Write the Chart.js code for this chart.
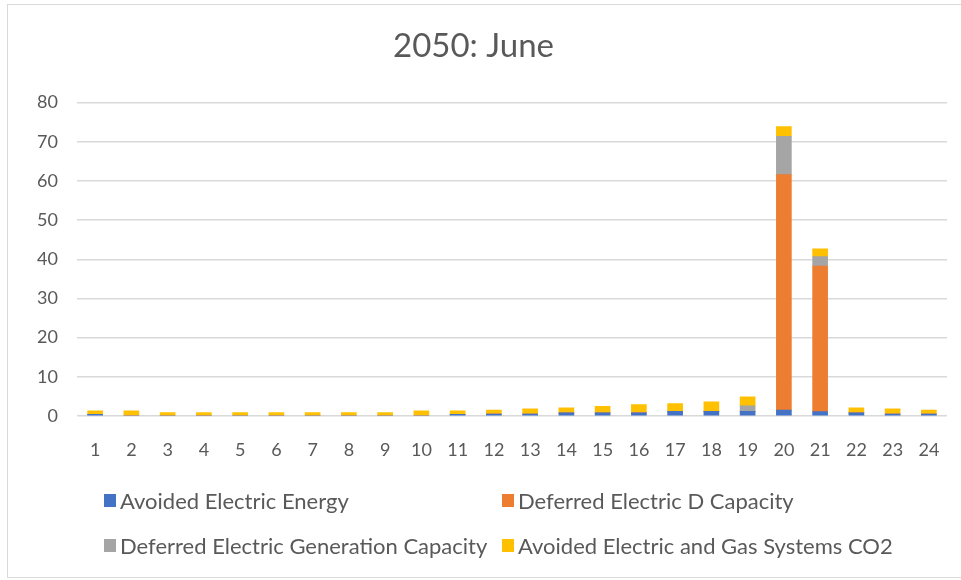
<!DOCTYPE html>
<html>
<head>
<meta charset="utf-8">
<script src="https://cdn.jsdelivr.net/npm/chart.js@4"></script>
<style>
  body { margin: 0; background: #fff; font-family: Lato, "Open Sans", sans-serif; }
  #wrap { position: relative; width: 961px; height: 580px; }
  #frame { position: absolute; left: 7px; top: 4px; width: 960px; height: 574px; border: 1px solid #d9d9d9; box-sizing: border-box; }
  #legend { position: absolute; left: 104px; top: 489px; display: grid; grid-template-columns: 398px 420px; row-gap: 23px; }
  .item { display: flex; align-items: center; color: #595959; font-size: 22px; height: 22px; white-space: nowrap; }
  .box { width: 12px; height: 13px; margin-right: 4px; }
</style>
</head>
<body>
<div id="wrap">
  <div id="frame"></div>
  <canvas id="myChart" width="961" height="580"></canvas>
  <div id="legend"></div>
</div>
<script>
// hours of the day
var hours = ['1','2','3','4','5','6','7','8','9','10','11','12','13','14','15','16','17','18','19','20','21','22','23','24'];

// series
var avoidedEnergy   = [0.4,0,0,0,0,0,0,0,0,0,0.4,0.5,0.5,0.8,0.8,0.8,1.2,1.2,1.2,1.5,1.1,0.8,0.5,0.5];
var deferredD       = [0,0,0,0,0,0,0,0,0,0,0,0,0,0,0,0,0,0,0,60.1,37.2,0,0,0];
var deferredGen     = [0,0,0,0,0,0,0,0,0,0,0,0,0,0,0,0,0,0,1.4,9.8,2.4,0,0,0];
var avoidedCO2      = [0.9,1.3,0.9,0.9,0.9,0.9,0.9,0.9,0.9,1.3,0.9,1.0,1.3,1.3,1.7,2.1,2.0,2.4,2.3,2.5,2.0,1.3,1.3,1.0];

var yTicks = [0,10,20,30,40,50,60,70,80];

var seriesNames  = ['Avoided Electric Energy','Deferred Electric D Capacity','Deferred Electric Generation Capacity','Avoided Electric and Gas Systems CO2'];
var seriesColors = ['#4472C4','#ED7D31','#A5A5A5','#FFC000'];
var seriesData   = [avoidedEnergy, deferredD, deferredGen, avoidedCO2];

var textColor = '#595959';

var ctx = document.getElementById('myChart').getContext('2d');
var chart = new Chart(ctx, {
    type: 'bar',
    data: {
        labels: hours,
        datasets: seriesData.map(function (d, i) {
            return {
                label: seriesNames[i],
                data: d,
                backgroundColor: seriesColors[i],
                borderWidth: 0,
                barThickness: 15
            };
        })
    },
    options: {
        responsive: false,
        animation: false,
        layout: { padding: { left: 0, right: 14, top: 27, bottom: 104 } },
        plugins: {
            legend: { display: false },
            tooltip: { enabled: false },
            title: {
                display: true,
                text: '2050: June',
                color: textColor,
                font: { family: 'Lato', size: 33, weight: 'normal' },
                padding: { top: 0, bottom: 36 }
            }
        },
        scales: {
            x: {
                stacked: true,
                grid: { display: false },
                border: { display: false },
                ticks: { color: textColor, font: { family: 'Lato', size: 18 }, padding: 15, maxRotation: 0 },
                afterFit: function (s) { s.height = 60; }
            },
            y: {
                stacked: true,
                min: 0,
                max: 80,
                afterBuildTicks: function (s) { s.ticks = yTicks.map(function (v) { return { value: v }; }); },
                grid: { color: '#d9d9d9', lineWidth: 1.5, drawTicks: false },
                border: { display: false },
                ticks: { color: textColor, font: { family: 'Lato', size: 18 }, padding: 19 },
                afterFit: function (s) { s.width = 77; }
            }
        }
    }
});

// legend in two columns, like the original
var legend = document.getElementById('legend');
[0, 1, 2, 3].forEach(function (i) {
    var item = document.createElement('div');
    item.className = 'item';
    item.innerHTML = '<span class="box" style="background:' + seriesColors[i] + '"></span>' + seriesNames[i];
    legend.appendChild(item);
});
</script>
</body>
</html>
